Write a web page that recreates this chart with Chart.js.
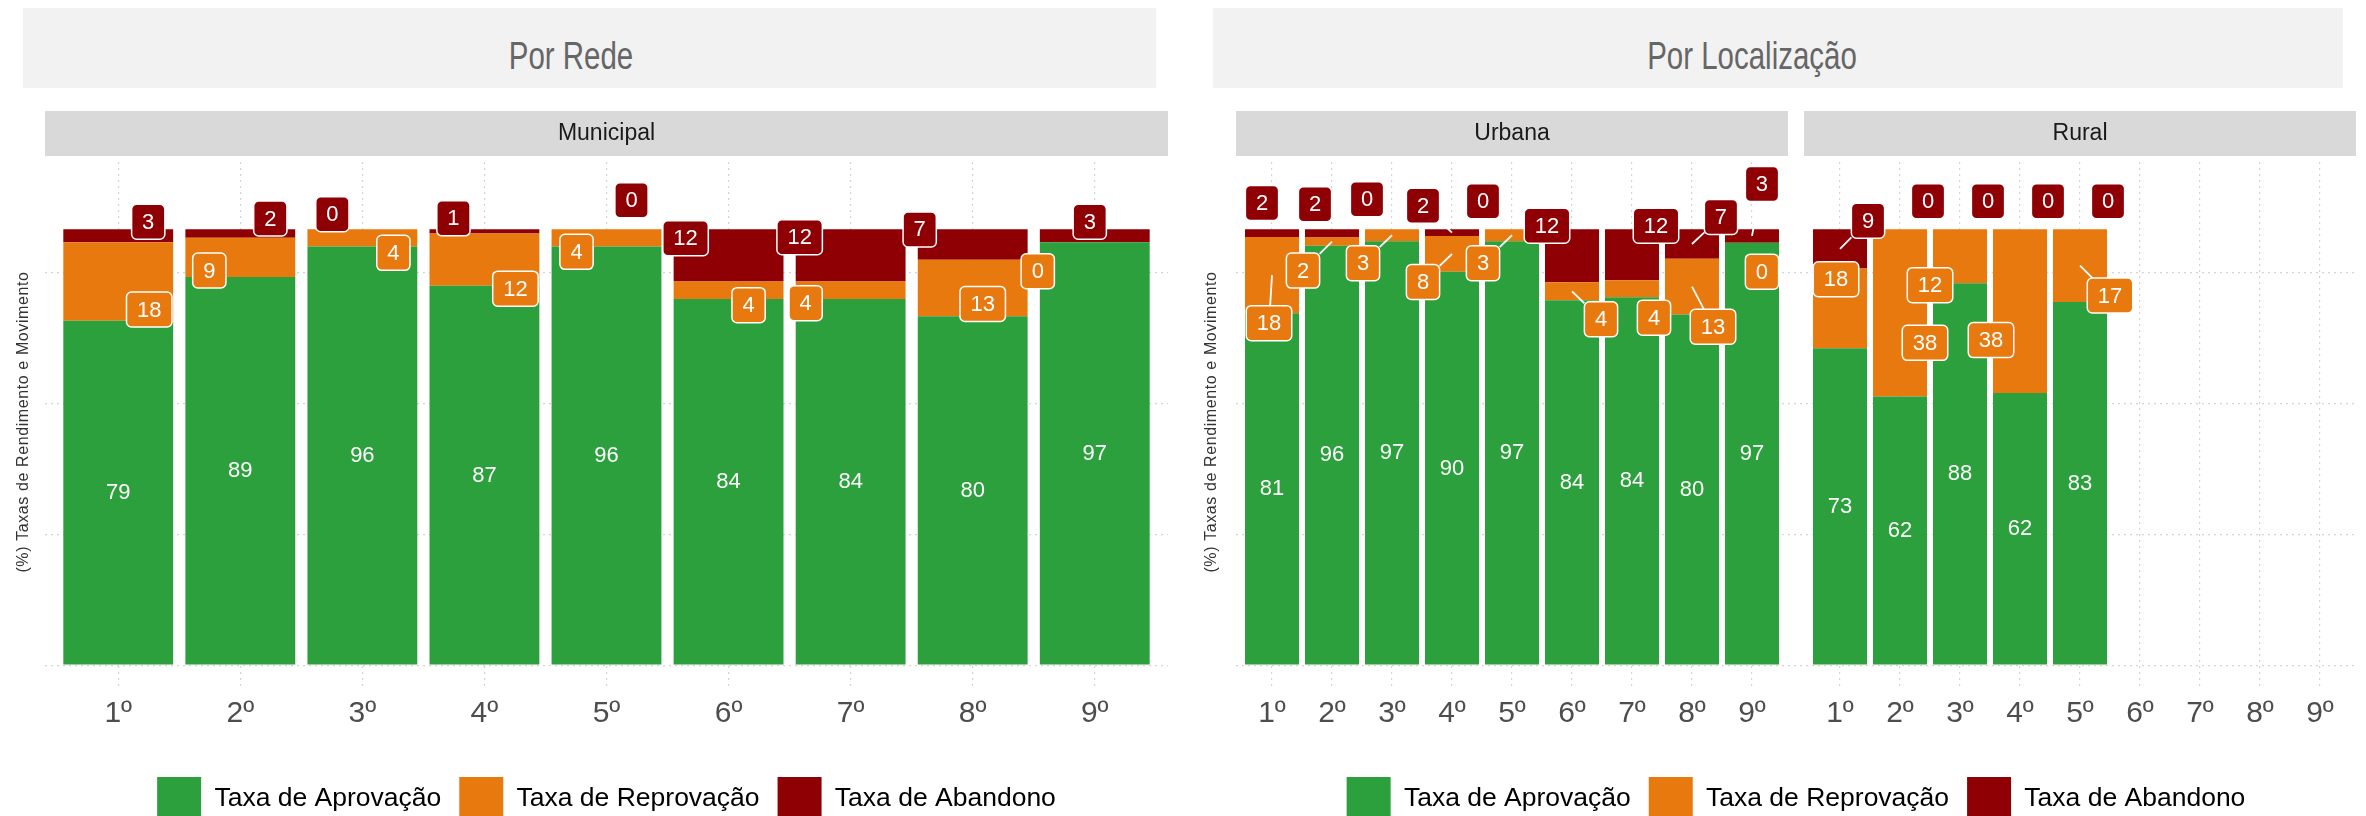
<!DOCTYPE html>
<html lang="pt-BR">
<head>
<meta charset="utf-8">
<title>Taxas de Rendimento e Movimento</title>
<script src="https://cdn.jsdelivr.net/npm/chart.js@4.4.1/dist/chart.umd.min.js"></script>
<style>
    body { margin: 0; width: 2366px; height: 816px; overflow: hidden; background: #fff; position: relative; }
    .ttl { position: absolute; top: 8px; height: 80px; background: #f2f2f2; }
    .ttl span {
        position: absolute; top: 29px; white-space: nowrap;
        font: 38px/38px 'Liberation Sans', Arial, sans-serif; color: #666;
        transform: translateX(-50%) scaleX(0.775);
    }
    .box { position: absolute; top: 0; width: 1183px; height: 831px; }
</style>
</head>
<body>
<div class="ttl" style="left:23px;width:1133px"><span style="left:548px">Por Rede</span></div>
<div class="ttl" style="left:1213px;width:1130px"><span style="left:539px">Por Localização</span></div>
<div class="box" style="left:0"><canvas id="chartRede"></canvas></div>
<div class="box" style="left:1183px"><canvas id="chartLocal"></canvas></div>

<script>
// Data
const grades = ['1º', '2º', '3º', '4º', '5º', '6º', '7º', '8º', '9º'];
const seriesNames = ['Taxa de Aprovação', 'Taxa de Reprovação', 'Taxa de Abandono'];
const yTicks = [0, 30, 60, 90];

const municipalAprov = [79, 89, 96, 87, 96, 84, 84, 80, 97];
const municipalReprov = [18, 9, 4, 12, 4, 4, 4, 13, 0];
const municipalAband = [3, 2, 0, 1, 0, 12, 12, 7, 3];

const urbanaAprov = [80.7, 96.2, 97.2, 90.2, 97.2, 83.7, 84.4, 80.4, 96.9];
const urbanaReprov = [17.5, 1.9, 2.8, 8.2, 2.8, 4.1, 3.9, 12.8, 0];
const urbanaAband = [1.8, 1.9, 0, 1.6, 0, 12.2, 11.7, 6.8, 3.1];

const ruralAprov = [72.7, 61.6, 87.6, 62.4, 83.3];
const ruralReprov = [18.3, 38.4, 12.4, 37.6, 16.7];
const ruralAband = [9, 0, 0, 0, 0];

// Look
const colors = ['#2ca03c', '#e8790f', '#8f0005'];
const FONT = "'Liberation Sans', Arial, sans-serif";
const GRID = '#d4d4d4';
const TAG_FONT = '22px ' + FONT;

// Where the repelled labels sit, in pixels from their anchor (dx, dy, draw leader)
const redNudgeMunicipal = [[30, -14], [30, -15], [-30, -15], [-31, -13], [25, -29], [-43, -17], [-51, -18], [-53, -15], [-5, -14]];
const orangeNudgeMunicipal = [[31, 28], [-31, 13], [31, 15], [31, 29], [-30, 14], [20, 15], [-45, 13], [10, 16], [-57, 29]];
const redNudgeLocal = [
    [-10, -30, 0], [-17, -29, 0], [-25, -30, 0], [-29, -27, 1], [-29, -28, 0], [-25, -30, 0], [24, -29, 0], [29, -27, 1], [10, -52, 1],
    [28, -28, 1], [28, -28, 0], [28, -28, 0], [28, -28, 0], [28, -28, 0]
];
const orangeNudgeLocal = [
    [-3, 48, 1], [-29, 29, 1], [-29, 28, 1], [-29, 28, 1], [-29, 28, 1], [29, 28, 1], [22, 29, 0], [21, 40, 1], [10, 29, 0],
    [-4, -29, 0], [25, 30, 0], [-30, 29, 0], [-29, 29, 0], [30, 30, 1]
];

const ruralStart = 9.467; // Rural facet starts after the Urbana one

function points(xs, ys) {
    return ys.map((v, i) => ({ x: xs[i], y: v }));
}

function makeDatasets(xs, aprov, reprov, aband) {
    return [aprov, reprov, aband].map((vals, k) => ({
        label: seriesNames[k],
        data: points(xs, vals),
        backgroundColor: colors[k],
        borderWidth: 0,
        barPercentage: 0.9,
        categoryPercentage: 1.0
    }));
}

function tagWidth(ctx, text) {
    ctx.font = TAG_FONT;
    return ctx.measureText(text).width + 21;
}

function drawTag(ctx, text, cx, cy, fill) {
    const w = tagWidth(ctx, text);
    const h = 35;
    ctx.beginPath();
    ctx.roundRect(cx - w / 2, cy - h / 2, w, h, 5);
    ctx.fillStyle = fill;
    ctx.fill();
    ctx.lineWidth = 1.5;
    ctx.strokeStyle = '#ffffff';
    ctx.stroke();
    ctx.fillStyle = '#ffffff';
    ctx.textAlign = 'center';
    ctx.textBaseline = 'middle';
    ctx.fillText(text, cx, cy + 1);
}

function drawLeader(ctx, ax, ay, cx, cy, w, h) {
    const dx = cx - ax, dy = cy - ay;
    const tx = dx === 0 ? Infinity : (w / 2) / Math.abs(dx);
    const ty = dy === 0 ? Infinity : (h / 2) / Math.abs(dy);
    const t = Math.min(tx, ty);
    ctx.beginPath();
    ctx.moveTo(ax, ay);
    ctx.lineTo(cx - dx * t, cy - dy * t);
    ctx.lineWidth = 1.8;
    ctx.strokeStyle = '#ffffff';
    ctx.stroke();
}

// Value labels: plain text in green, boxed tags for the two others
const labelsPlugin = {
    id: 'valueLabels',
    afterDatasetsDraw(chart) {
        const ctx = chart.ctx;
        const xs = chart.scales.x, ys = chart.scales.y;
        const [aprov, reprov, aband] = chart.data.datasets.map(d => d.data);
        const cfg = chart.options.plugins.valueLabels;
        ctx.save();
        aprov.forEach((p, i) => {
            const px = xs.getPixelForValue(p.x);
            const a = p.y, r = reprov[i].y, b = aband[i].y;

            ctx.font = '22px ' + FONT;
            ctx.fillStyle = '#ffffff';
            ctx.textAlign = 'center';
            ctx.textBaseline = 'middle';
            ctx.fillText(String(Math.round(a)), px, ys.getPixelForValue(a / 2));

            const tags = [
                { val: r, mid: a + r / 2, nudge: cfg.orange[i], fill: colors[1] },
                { val: b, mid: a + r + b / 2, nudge: cfg.red[i], fill: colors[2] }
            ];
            tags.forEach(tag => {
                if (!tag.nudge[2]) return;
                const ay = ys.getPixelForValue(tag.mid);
                const w = tagWidth(ctx, String(Math.round(tag.val)));
                drawLeader(ctx, px, ay, px + tag.nudge[0], ay + tag.nudge[1], w, 35);
            });
            tags.forEach(tag => {
                const ay = ys.getPixelForValue(tag.mid);
                drawTag(ctx, String(Math.round(tag.val)), px + tag.nudge[0], ay + tag.nudge[1], tag.fill);
            });
        });
        ctx.restore();
    }
};

// Facet strips above the panels and the rotated y title
const stripsPlugin = {
    id: 'strips',
    afterDraw(chart) {
        const ctx = chart.ctx;
        const xs = chart.scales.x;
        const area = chart.chartArea;
        const cfg = chart.options.plugins.strips;
        ctx.save();
        cfg.panels.forEach(panel => {
            const left = xs.getPixelForValue(panel.from);
            const right = xs.getPixelForValue(panel.to);
            ctx.fillStyle = '#d9d9d9';
            ctx.fillRect(left, area.top - 51, right - left, 45);
            ctx.fillStyle = '#1a1a1a';
            ctx.font = '23px ' + FONT;
            ctx.textAlign = 'center';
            ctx.textBaseline = 'middle';
            ctx.fillText(panel.name, (left + right) / 2, area.top - 28);
        });

        ctx.translate(cfg.titleX, (area.top + area.bottom) / 2 - 4);
        ctx.rotate(-Math.PI / 2);
        ctx.fillStyle = '#333333';
        ctx.font = '16px ' + FONT;
        ctx.letterSpacing = '0.6px';
        ctx.textAlign = 'center';
        ctx.textBaseline = 'middle';
        ctx.fillText('(%) Taxas de Rendimento e Movimento', 0, 0);
        ctx.restore();
    }
};

function buildChart(canvasId, opts) {
    const ctx = document.getElementById(canvasId).getContext('2d');
    return new Chart(ctx, {
        type: 'bar',
        data: { datasets: opts.datasets },
        options: {
            responsive: true,
            maintainAspectRatio: false,
            animation: false,
            events: [],
            layout: { padding: { top: 162, right: opts.padRight, bottom: 0, left: 0 } },
            plugins: {
                legend: {
                    position: 'bottom',
                    fullSize: false,
                    labels: {
                        boxWidth: 44,
                        boxHeight: 44,
                        padding: 18,
                        color: '#000000',
                        font: { family: FONT, size: 26.5 }
                    }
                },
                tooltip: { enabled: false },
                valueLabels: { red: opts.red, orange: opts.orange },
                strips: { panels: opts.panels, titleX: opts.titleX }
            },
            scales: {
                x: {
                    type: 'linear',
                    stacked: true,
                    offset: false,
                    min: -0.6,
                    max: opts.xMax,
                    afterBuildTicks: scale => {
                        scale.ticks = opts.tickPos.map(v => ({ value: v }));
                    },
                    afterFit: scale => { scale.height = 69; },
                    grid: { color: GRID, lineWidth: 1.2, drawTicks: false, offset: false },
                    border: { display: false, dash: [2, 4] },
                    ticks: {
                        autoSkip: false,
                        maxRotation: 0,
                        padding: 6,
                        color: '#4d4d4d',
                        font: { family: FONT, size: 30 },
                        callback: (value, index) => grades[index % grades.length]
                    }
                },
                y: {
                    stacked: true,
                    min: -5.7,
                    max: 115.4,
                    afterBuildTicks: scale => {
                        scale.ticks = yTicks.map(v => ({ value: v }));
                    },
                    afterFit: scale => { scale.width = opts.axisWidth; },
                    grid: { color: GRID, lineWidth: 1.2, drawTicks: false },
                    border: { display: false, dash: [2, 4] },
                    ticks: { display: false }
                }
            }
        },
        plugins: [labelsPlugin, stripsPlugin]
    });
}

document.addEventListener('DOMContentLoaded', function() {
    const idx = grades.map((g, i) => i);

    buildChart('chartRede', {
        datasets: makeDatasets(idx, municipalAprov, municipalReprov, municipalAband),
        xMax: 8.6,
        tickPos: idx,
        padRight: 15,
        axisWidth: 45,
        titleX: 24,
        red: redNudgeMunicipal,
        orange: orangeNudgeMunicipal,
        panels: [{ name: 'Municipal', from: -0.6, to: 8.6 }]
    });

    const ruralIdx = ruralAprov.map((v, i) => ruralStart + i);
    const localX = idx.concat(ruralIdx);
    buildChart('chartLocal', {
        datasets: makeDatasets(localX,
            urbanaAprov.concat(ruralAprov),
            urbanaReprov.concat(ruralReprov),
            urbanaAband.concat(ruralAband)),
        xMax: ruralStart + 8.6,
        tickPos: idx.concat(idx.map(i => ruralStart + i)),
        padRight: 10,
        axisWidth: 53,
        titleX: 29,
        red: redNudgeLocal,
        orange: orangeNudgeLocal,
        panels: [
            { name: 'Urbana', from: -0.6, to: 8.6 },
            { name: 'Rural', from: ruralStart - 0.6, to: ruralStart + 8.6 }
        ]
    });
});
</script>
</body>
</html>
